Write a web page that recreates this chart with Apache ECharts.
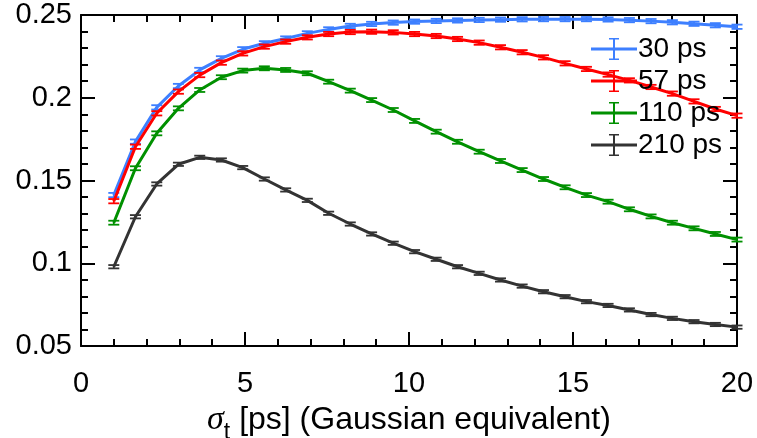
<!DOCTYPE html>
<html>
<head>
<meta charset="utf-8">
<script src="https://cdn.jsdelivr.net/npm/echarts@6/dist/echarts.min.js"></script>
<style>html,body{margin:0;padding:0;background:#fff}#c{width:757px;height:438px}</style>
</head>
<body>
<div id="c"></div>
<script>
const xValues = [1.00, 1.66, 2.31, 2.97, 3.62, 4.28, 4.93, 5.59, 6.24, 6.90, 7.55, 8.21, 8.86, 9.52, 10.17, 10.83, 11.48, 12.14, 12.79, 13.45, 14.10, 14.76, 15.41, 16.07, 16.72, 17.38, 18.03, 18.69, 19.34, 20.00];
const seriesNames = ['30 ps', '57 ps', '110 ps', '210 ps'];
const y30 = [0.1412, 0.1735, 0.1942, 0.2071, 0.2168, 0.2238, 0.2293, 0.2329, 0.2358, 0.2389, 0.2413, 0.2434, 0.2446, 0.2454, 0.2460, 0.2464, 0.2467, 0.2470, 0.2472, 0.2474, 0.2475, 0.2475, 0.2475, 0.2473, 0.2469, 0.2463, 0.2456, 0.2447, 0.2438, 0.2429];
const y57 = [0.1375, 0.1704, 0.1906, 0.2037, 0.2137, 0.2212, 0.2268, 0.2309, 0.2339, 0.2365, 0.2385, 0.2397, 0.2399, 0.2395, 0.2385, 0.2373, 0.2355, 0.2333, 0.2305, 0.2275, 0.2244, 0.2208, 0.2174, 0.2140, 0.2105, 0.2065, 0.2025, 0.1978, 0.1932, 0.1892];
const y110 = [0.1245, 0.1574, 0.1785, 0.1936, 0.2047, 0.2124, 0.2164, 0.2178, 0.2168, 0.2148, 0.2097, 0.2043, 0.1986, 0.1926, 0.1860, 0.1795, 0.1734, 0.1674, 0.1618, 0.1563, 0.1509, 0.1459, 0.1412, 0.1372, 0.1326, 0.1283, 0.1245, 0.1211, 0.1177, 0.1143];
const y210 = [0.0979, 0.1281, 0.1479, 0.1598, 0.1640, 0.1624, 0.1578, 0.1509, 0.1443, 0.1380, 0.1302, 0.1237, 0.1177, 0.1121, 0.1070, 0.1024, 0.0979, 0.0939, 0.0899, 0.0862, 0.0828, 0.0798, 0.0768, 0.0745, 0.0718, 0.0690, 0.0667, 0.0647, 0.0630, 0.0614];
const errSize = [0.0013, 0.0013, 0.0012, 0.0010];
const xTicks = [0, 5, 10, 15, 20];
const yTicks = [0.05, 0.1, 0.15, 0.2, 0.25];

const colors = ['#3d7fff', '#ff0000', '#009000', '#333333'];
const allY = [y30, y57, y110, y210];
const FONT = 'Liberation Sans, Arial, sans-serif';

const chart = echarts.init(document.getElementById('c'), null, {renderer: 'canvas'});

const series = [];
allY.forEach((ys, i) => {
  const pts = xValues.map((x, k) => [x, ys[k]]);
  series.push({
    name: seriesNames[i], type: 'line', data: pts, showSymbol: false, symbol: 'none',
    lineStyle: {color: colors[i], width: 3}, itemStyle: {color: colors[i]},
    z: 2 + i, animation: false
  });
  series.push({
    name: seriesNames[i], type: 'custom', z: 2 + i, animation: false,
    data: xValues.map((x, k) => [x, ys[k], errSize[i]]),
    renderItem: function (params, api) {
      const x = api.value(0), y = api.value(1), e = api.value(2);
      const a = api.coord([x, y + e]), b = api.coord([x, y - e]);
      const hw = 5.5;
      const st = {stroke: colors[i], lineWidth: 1.8};
      return {type: 'group', children: [
        {type: 'line', shape: {x1: a[0], y1: a[1], x2: b[0], y2: b[1]}, style: st},
        {type: 'line', shape: {x1: a[0] - hw, y1: a[1], x2: a[0] + hw, y2: a[1]}, style: st},
        {type: 'line', shape: {x1: b[0] - hw, y1: b[1], x2: b[0] + hw, y2: b[1]}, style: st}
      ]};
    }
  });
});

const legendIcon = 'path://M0,9.5h46v3h-46z M22,0h2v22h-2z M18,0h10v1.6h-10z M18,20.4h10v1.6h-10z';

const axisCommon = {
  min: 0, max: 20, interval: 5,
  axisLine: {show: true, onZero: false, lineStyle: {color: '#000', width: 2}},
  axisTick: {show: true, inside: true, length: 14, lineStyle: {color: '#000', width: 2}},
  minorTick: {show: true, splitNumber: 5, length: 7, lineStyle: {color: '#000', width: 2}},
  splitLine: {show: false}
};

chart.setOption({
  animation: false,
  grid: {left: 81, right: 20, top: 15, bottom: 92, containLabel: false, outerBoundsMode: 'none'},
  legend: {
    data: seriesNames, orient: 'vertical', left: 586, top: 30,
    itemWidth: 46, itemHeight: 22, itemGap: 4, icon: legendIcon,
    textStyle: {fontFamily: FONT, fontSize: 28, color: '#000', padding: [0, 0, 0, -4]},
    selectedMode: false
  },
  xAxis: [
    Object.assign({}, axisCommon, {
      type: 'value', position: 'bottom',
      axisLabel: {show: true, margin: 23, fontFamily: FONT, fontSize: 29, color: '#000',
        formatter: v => xTicks.includes(v) ? String(v) : ''},
      name: '{i|σ}{s|t} [ps] (Gaussian equivalent)', nameLocation: 'middle', nameGap: 38,
      nameTextStyle: {fontFamily: FONT, fontSize: 32, color: '#000',
        rich: {i: {fontFamily: 'Liberation Serif, serif', fontStyle: 'italic', fontSize: 34, color: '#000'},
               s: {fontFamily: FONT, fontSize: 23, color: '#000', verticalAlign: 'bottom', padding: [26, 0, 0, 0]}}}
    }),
    Object.assign({}, axisCommon, {type: 'value', position: 'top', axisLabel: {show: false}})
  ],
  yAxis: [
    Object.assign({}, axisCommon, {
      type: 'value', position: 'left', min: 0.05, max: 0.25, interval: 0.05,
      axisLabel: {show: true, margin: 9, fontFamily: FONT, fontSize: 29, color: '#000',
        formatter: v => { const t = yTicks.find(q => Math.abs(q - v) < 1e-9); return t === undefined ? '' : String(t); }}
    }),
    Object.assign({}, axisCommon, {type: 'value', position: 'right', min: 0.05, max: 0.25, interval: 0.05, axisLabel: {show: false}})
  ],
  series: series
});
</script>
</body>
</html>
